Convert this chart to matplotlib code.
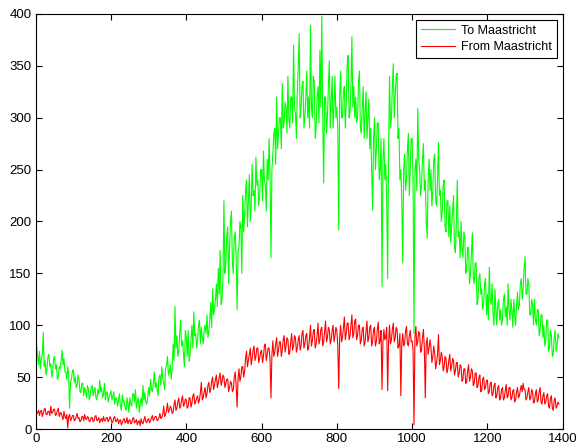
import matplotlib
matplotlib.use("Agg")
import matplotlib.pyplot as plt
import numpy as np

STEP = 2.5  # minutes between readings

# counts, 20 readings per 50 minutes
to_maastricht = [
    95, 80, 70, 62, 75, 58, 68, 72, 93, 60, 66, 52, 58, 70, 72, 60, 63, 50, 55, 68,
    70, 58, 62, 48, 50, 60, 58, 66, 76, 62, 68, 55, 55, 48, 60, 52, 20, 45, 48, 56,
    57, 45, 50, 40, 42, 52, 48, 36, 35, 44, 44, 32, 40, 36, 30, 42, 38, 28, 33, 40,
    42, 32, 36, 40, 30, 28, 38, 34, 47, 36, 40, 30, 33, 44, 28, 35, 36, 26, 30, 34,
    37, 28, 32, 36, 24, 30, 30, 22, 28, 34, 22, 18, 33, 26, 27, 20, 18, 30, 25, 16,
    30, 24, 22, 34, 34, 26, 38, 20, 26, 30, 16, 24, 30, 22, 42, 28, 35, 26, 24, 30,
    40, 32, 48, 38, 36, 44, 55, 40, 45, 38, 32, 50, 52, 42, 60, 48, 45, 38, 58, 62,
    70, 52, 55, 62, 48, 58, 82, 66, 118, 78, 90, 70, 75, 92, 105, 80, 85, 72, 60, 95,
    88, 70, 95, 65, 72, 85, 100, 78, 113, 90, 92, 78, 85, 100, 105, 82, 98, 88, 82, 95,
    100, 92, 110, 88, 95, 105, 122, 98, 135, 110, 115, 125, 140, 118, 155, 130, 172, 120, 125, 145,
    220, 150, 160, 185, 195, 140, 175, 200, 210, 160, 150, 185, 190, 165, 115, 170, 175, 200, 195, 150,
    225, 190, 205, 230, 240, 195, 220, 245, 200, 215, 255, 225, 230, 210, 262, 235, 240, 215, 225, 250,
    250, 220, 268, 240, 235, 210, 260, 240, 280, 245, 165, 250, 265, 285, 290, 255, 320, 270, 285, 300,
    300, 270, 333, 290, 295, 315, 310, 285, 340, 300, 290, 320, 320, 295, 370, 310, 305, 280, 325, 350,
    381, 300, 310, 330, 335, 290, 300, 320, 345, 300, 320, 290, 389, 310, 300, 340, 335, 280, 290, 320,
    330, 295, 365, 310, 398, 300, 237, 320, 320, 285, 300, 330, 355, 290, 315, 340, 290, 310, 340, 300,
    310, 290, 192, 320, 345, 300, 300, 325, 330, 290, 315, 350, 360, 300, 305, 330, 378, 310, 330, 300,
    320, 295, 300, 335, 345, 290, 285, 310, 330, 280, 305, 325, 280, 300, 318, 270, 290, 250, 211, 280,
    300, 250, 270, 295, 295, 240, 250, 280, 137, 260, 280, 240, 255, 220, 145, 270, 340, 290, 300, 330,
    352, 300, 320, 340, 343, 280, 290, 240, 250, 220, 160, 250, 265, 230, 240, 270, 285, 225, 250, 280,
    280, 240, 92, 250, 260, 230, 309, 260, 250, 225, 235, 260, 275, 230, 240, 200, 184, 240, 260, 230,
    250, 215, 230, 260, 265, 220, 215, 240, 276, 225, 230, 200, 210, 235, 240, 195, 190, 220, 220, 185,
    215, 180, 195, 210, 225, 175, 170, 200, 240, 185, 190, 165, 200, 175, 165, 190, 185, 150, 155, 175,
    175, 140, 150, 170, 189, 145, 140, 160, 160, 120, 125, 145, 150, 130, 135, 115, 120, 140, 145, 110,
    130, 105, 156, 125, 120, 140, 110, 100, 135, 115, 100, 120, 125, 105, 115, 100, 105, 125, 130, 108,
    118, 100, 140, 115, 105, 125, 115, 98, 125, 110, 100, 120, 132, 115, 120, 140, 145, 125, 135, 155,
    166, 130, 130, 145, 140, 110, 110, 125, 120, 100, 125, 105, 100, 115, 115, 90, 95, 110, 110, 88,
    100, 80, 85, 105, 105, 75, 78, 95, 90, 70, 72, 88, 95, 75, 80, 92, 88,
]

from_maastricht = [
    22, 14, 16, 18, 13, 17, 18, 12, 15, 19, 20, 14, 14, 17, 17, 13, 22, 15, 16, 19,
    19, 13, 14, 18, 20, 12, 15, 16, 12, 9, 17, 12, 10, 14, 1, 12, 14, 8, 10, 13,
    13, 8, 9, 12, 15, 10, 11, 7, 8, 12, 12, 8, 14, 10, 9, 12, 11, 7, 8, 11,
    11, 7, 8, 12, 13, 8, 9, 11, 6, 9, 10, 7, 12, 8, 8, 11, 11, 7, 9, 12,
    10, 6, 7, 11, 12, 7, 8, 10, 5, 8, 9, 4, 6, 9, 10, 6, 7, 11, 5, 8,
    9, 5, 6, 10, 11, 6, 7, 9, 4, 7, 8, 3, 10, 6, 5, 9, 12, 7, 6, 9,
    10, 6, 8, 11, 13, 8, 10, 12, 12, 8, 9, 11, 15, 10, 11, 14, 22, 12, 14, 18,
    25, 16, 18, 22, 20, 15, 16, 24, 28, 18, 20, 26, 30, 20, 22, 28, 32, 22, 24, 29,
    28, 20, 22, 30, 30, 21, 25, 32, 34, 24, 26, 30, 32, 25, 28, 35, 45, 28, 30, 36,
    40, 30, 34, 42, 45, 35, 38, 46, 50, 38, 42, 48, 52, 40, 44, 50, 54, 42, 46, 52,
    50, 40, 44, 48, 48, 36, 40, 46, 44, 36, 38, 50, 55, 42, 21, 48, 58, 46, 50, 60,
    60, 50, 56, 68, 75, 60, 66, 72, 78, 62, 68, 76, 80, 66, 70, 78, 78, 64, 68, 74,
    76, 64, 70, 80, 82, 66, 72, 78, 78, 66, 30, 72, 85, 70, 74, 82, 88, 70, 76, 84,
    84, 70, 76, 86, 90, 74, 80, 88, 86, 72, 74, 84, 92, 76, 80, 90, 88, 74, 78, 86,
    90, 76, 80, 92, 95, 78, 82, 90, 92, 76, 78, 88, 100, 80, 85, 94, 96, 78, 82, 90,
    102, 82, 86, 96, 98, 80, 84, 94, 104, 84, 88, 98, 96, 82, 86, 95, 100, 84, 90, 98,
    95, 80, 39, 88, 100, 84, 88, 98, 108, 86, 92, 102, 102, 86, 90, 100, 110, 88, 92, 104,
    106, 86, 90, 100, 100, 82, 86, 96, 98, 80, 84, 94, 104, 84, 88, 98, 100, 80, 84, 96,
    98, 80, 84, 96, 103, 82, 85, 95, 38, 84, 96, 86, 88, 98, 37, 84, 100, 82, 86, 96,
    102, 84, 88, 98, 96, 78, 80, 92, 32, 82, 92, 80, 82, 94, 99, 82, 80, 90, 95, 84,
    85, 76, 4, 88, 99, 80, 84, 94, 92, 74, 76, 88, 96, 78, 30, 82, 88, 72, 78, 86,
    79, 64, 70, 80, 73, 58, 64, 72, 91, 62, 66, 74, 70, 56, 60, 70, 68, 54, 58, 66,
    72, 56, 60, 68, 66, 52, 56, 64, 64, 50, 54, 62, 60, 46, 48, 58, 58, 44, 46, 56,
    62, 46, 50, 58, 56, 42, 44, 54, 54, 40, 42, 50, 52, 36, 38, 48, 50, 38, 40, 47,
    47, 34, 36, 44, 45, 32, 34, 42, 44, 30, 32, 40, 42, 28, 30, 38, 40, 28, 30, 37,
    43, 30, 32, 40, 40, 28, 30, 37, 38, 26, 28, 36, 40, 30, 32, 38, 42, 36, 44, 38,
    38, 28, 30, 36, 40, 28, 30, 38, 36, 25, 26, 34, 38, 26, 28, 36, 40, 26, 24, 32,
    35, 24, 26, 32, 34, 22, 20, 30, 32, 20, 18, 28, 30, 20, 22, 26, 24,
]

to_minutes = np.arange(len(to_maastricht)) * STEP
from_minutes = np.arange(len(from_maastricht)) * STEP

plt.rcParams["font.family"] = ["Liberation Sans", "DejaVu Sans"]

fig = plt.figure(figsize=(5.78, 4.48), dpi=100)
ax = fig.add_axes([0.0618, 0.0424, 0.9117, 0.9264])

ax.plot(to_minutes, to_maastricht, color="#00FF00", linewidth=0.8, label="To Maastricht")
ax.plot(from_minutes, from_maastricht, color="#FF0000", linewidth=0.8, label="From Maastricht")

ax.set_xlim(0, 1400)
ax.set_ylim(0, 400)
ax.set_xticks(np.arange(0, 1401, 200))
ax.set_yticks(np.arange(0, 401, 50))
ax.tick_params(direction="in", top=True, right=True, length=4, width=0.8,
               labelsize=9.5, pad=3)
for sp in ax.spines.values():
    sp.set_linewidth(0.8)

leg = ax.legend(loc="upper right", fancybox=False, framealpha=1,
                edgecolor="black", fontsize=9, handlelength=2.7,
                handletextpad=0.5, borderaxespad=0.45, borderpad=0.4,
                labelspacing=0.35)
leg.get_frame().set_linewidth(0.8)

fig.savefig("out.png", dpi=100)
